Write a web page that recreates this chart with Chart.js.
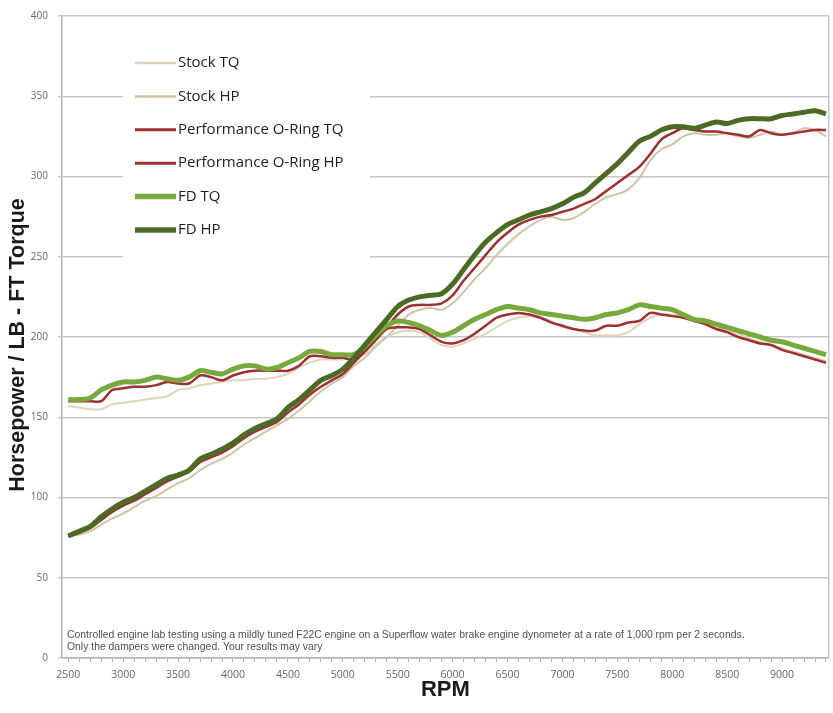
<!DOCTYPE html>
<html>
<head>
<meta charset="utf-8">
<script src="https://cdn.jsdelivr.net/npm/chart.js@4.4.1/dist/chart.umd.min.js"></script>
<style>
	html, body { margin: 0; padding: 0; background: #fff; }
	#wrap { width: 833px; height: 713px; }
</style>
</head>
<body>
<div id="wrap"><canvas id="chart-dyno"></canvas></div>
<script>
// ----------------------------------------------
// Data (every 100 rpm)
// ----------------------------------------------
const RPM = [
	2500, 2600, 2700, 2800, 2900, 3000, 3100, 3200, 3300, 3400,
	3500, 3600, 3700, 3800, 3900, 4000, 4100, 4200, 4300, 4400,
	4500, 4600, 4700, 4800, 4900, 5000, 5100, 5200, 5300, 5400,
	5500, 5600, 5700, 5800, 5900, 6000, 6100, 6200, 6300, 6400,
	6500, 6600, 6700, 6800, 6900, 7000, 7100, 7200, 7300, 7400,
	7500, 7600, 7700, 7800, 7900, 8000, 8100, 8200, 8300, 8400,
	8500, 8600, 8700, 8800, 8900, 9000, 9100, 9200, 9300, 9400,
];

const STOCK_TQ = [
	157, 156, 155, 155, 158, 159, 160, 161, 162, 163,
	167, 168, 170, 171, 172, 173, 173, 174, 174, 175,
	177, 181, 184, 186, 186, 186, 187, 189, 195, 200,
	203, 204, 203, 199, 195, 194, 196, 199, 202, 206,
	210, 212, 213, 212, 210, 206, 205, 203, 201, 201,
	201, 203, 208, 212, 214, 214, 212, 210, 208, 206,
	204, 202, 199, 197, 195, 193, 191, 189, 187, 185,
];
const STOCK_HP = [
	76, 77, 79, 83, 87, 90, 94, 98, 101, 105,
	109, 112, 117, 121, 124, 128, 133, 137, 141, 145,
	149, 154, 160, 166, 171, 175, 182, 187, 194, 200,
	207, 214, 217, 218, 217, 221, 228, 236, 243, 251,
	258, 264, 269, 273, 275, 273, 274, 278, 283, 287,
	289, 292, 299, 310, 317, 320, 325, 327, 326, 326,
	327, 325, 324, 326, 328, 326, 327, 330, 329, 325,
];
const PERF_TQ = [
	160, 160, 160, 160, 167, 168, 169, 169, 170, 172,
	171, 171, 176, 175, 173, 176, 178, 179, 179, 179,
	179, 182, 188, 188, 187, 187, 186, 191, 198, 205,
	206, 206, 205, 201, 197, 196, 198, 202, 207, 212,
	214, 215, 214, 212, 209, 207, 205, 204, 204, 207,
	207, 209, 210, 215, 214, 213, 212, 210, 208, 205,
	203, 200, 198, 196, 195, 192, 190, 188, 186, 184,
];
const PERF_HP = [
	76, 78, 81, 86, 91, 95, 98, 102, 106, 110,
	113, 116, 122, 125, 128, 132, 137, 141, 144, 147,
	153, 158, 164, 169, 173, 177, 184, 191, 199, 206,
	214, 219, 220, 220, 221, 226, 235, 243, 251, 259,
	265, 270, 273, 275, 276, 278, 280, 283, 286, 291,
	296, 301, 306, 314, 323, 327, 330, 329, 328, 328,
	327, 326, 325, 329, 327, 326, 327, 328, 329, 329,
];
const FD_TQ = [
	161, 161, 162, 167, 170, 172, 172, 173, 175, 174,
	173, 175, 179, 178, 177, 180, 182, 182, 180, 181,
	184, 187, 191, 191, 189, 189, 189, 194, 201, 207,
	210, 209, 207, 204, 201, 203, 207, 211, 214, 217,
	219, 218, 217, 215, 214, 213, 212, 211, 212, 214,
	215, 217, 220, 219, 218, 217, 214, 211, 210, 208,
	206, 204, 202, 200, 198, 197, 195, 193, 191, 189,
];
const FD_HP = [
	76, 79, 82, 88, 93, 97, 100, 104, 108, 112,
	114, 117, 124, 127, 130, 134, 139, 143, 146, 149,
	156, 161, 167, 173, 176, 180, 187, 195, 203, 211,
	219, 223, 225, 226, 227, 233, 242, 251, 259, 265,
	270, 273, 276, 278, 280, 283, 287, 290, 296, 302,
	308, 315, 322, 325, 329, 331, 331, 330, 332, 334,
	333, 335, 336, 336, 336, 338, 339, 340, 341, 339,
];

const Y_TICKS = [0, 50, 100, 150, 200, 250, 300, 350, 400];
const X_LABELS = [2500, 3000, 3500, 4000, 4500, 5000, 5500, 6000, 6500, 7000, 7500, 8000, 8500, 9000];

const Y_TITLE = "Horsepower / LB - FT Torque";
const NOTE_LINES = [
	"Controlled engine lab testing using a mildly tuned F22C engine on a Superflow water brake engine dynometer at a rate of 1,000 rpm per 2 seconds.",
	"Only the dampers were changed. Your results may vary",
];

const COLORS = {
	stockTq: "#ddd5bb",
	stockHp: "#cdc5a3",
	perf: "#9e2f32",
	fdTq: "#78a93c",
	fdHp: "#4b6b25",
	grid: "#c6c6c6",
	tick: "#666666",
};

const FONT = "'Open Sans', 'Liberation Sans', sans-serif";
const TITLE_FONT = "'Liberation Sans', Arial, sans-serif";

const toPoints = (values) => values.map((v, i) => ({ x: RPM[i], y: v }));

const SERIES = [
	{ label: "Stock TQ", data: STOCK_TQ, color: COLORS.stockTq, width: 2, order: 5 },
	{ label: "Stock HP", data: STOCK_HP, color: COLORS.stockHp, width: 2, order: 4 },
	{ label: "Performance O-Ring TQ", data: PERF_TQ, color: COLORS.perf, width: 2.5, order: 3 },
	{ label: "Performance O-Ring HP", data: PERF_HP, color: COLORS.perf, width: 2.5, order: 2 },
	{ label: "FD TQ", data: FD_TQ, color: COLORS.fdTq, width: 5, order: 1 },
	{ label: "FD HP", data: FD_HP, color: COLORS.fdHp, width: 5, order: 0 },
];

// ----------------------------------------------
// Legend box inside the plot + footnote + frame + y title
// ----------------------------------------------
const sheetDecor = {
	id: "sheetDecor",
	beforeDatasetsDraw(chart) {
		const { ctx, chartArea } = chart;
		ctx.save();

		// right frame
		ctx.strokeStyle = COLORS.grid;
		ctx.lineWidth = 1.5;
		ctx.beginPath();
		ctx.moveTo(chartArea.right, chartArea.top);
		ctx.lineTo(chartArea.right, chartArea.bottom);
		ctx.stroke();

		// legend box hides the grid behind it
		ctx.fillStyle = "#fff";
		ctx.fillRect(123, 38, 247, 224);

		ctx.font = "15px " + FONT;
		ctx.textBaseline = "middle";
		ctx.fillStyle = "#1e1e1e";
		SERIES.forEach((s, i) => {
			const y = 63 + i * 33.4;
			ctx.strokeStyle = s.color;
			ctx.lineWidth = s.width + 0.5;
			ctx.lineCap = "butt";
			ctx.beginPath();
			ctx.moveTo(135, y);
			ctx.lineTo(176, y);
			ctx.stroke();
			ctx.fillText(s.label, 178, y);
		});

		// footnote
		ctx.font = "10.4px " + TITLE_FONT;
		ctx.fillStyle = "#505050";
		NOTE_LINES.forEach((line, i) => {
			ctx.fillText(line, 67, 635 + i * 12.5);
		});

		// y axis title
		ctx.translate(18, 345);
		ctx.rotate(-Math.PI / 2);
		ctx.textAlign = "center";
		ctx.font = "bold 21.5px " + TITLE_FONT;
		ctx.fillStyle = "#1a1a1a";
		ctx.fillText(Y_TITLE, 0, 0);

		ctx.restore();
	},
};

const CHART_CONFIG = {
	type: "line",
	data: {
		datasets: SERIES.map((s) => ({
			label: s.label,
			data: toPoints(s.data),
			borderColor: s.color,
			backgroundColor: s.color,
			borderWidth: s.width,
			pointRadius: 0,
			tension: 0.3,
			order: s.order,
		})),
	},
	options: {
		responsive: true,
		maintainAspectRatio: false,
		animation: false,
		layout: {
			padding: { top: 10, right: 3, left: 0, bottom: 0 },
		},
		plugins: {
			legend: { display: false },
			tooltip: { enabled: false },
		},
		scales: {
			x: {
				type: "linear",
				min: 2443,
				max: 9425,
				afterFit: (scale) => {
					scale.height = 55;
				},
				afterBuildTicks: (scale) => {
					const ticks = [];
					for (let v = 2500; v <= 9400; v += 100) ticks.push({ value: v });
					scale.ticks = ticks;
				},
				border: { display: true, color: "#b4b4b4", width: 1.5 },
				grid: {
					drawOnChartArea: false,
					drawTicks: true,
					tickLength: 4,
					color: "#b4b4b4",
				},
				ticks: {
					autoSkip: false,
					maxRotation: 0,
					padding: 7,
					color: COLORS.tick,
					font: { family: FONT, size: 10.5 },
					callback: (value) => (X_LABELS.includes(value) ? String(value) : ""),
				},
				title: {
					display: true,
					text: "RPM",
					color: "#1a1a1a",
					font: { family: TITLE_FONT, size: 22, weight: "bold" },
					padding: { top: 0, bottom: 10 },
				},
			},
			y: {
				min: 0,
				max: 400,
				afterFit: (scale) => {
					scale.width = 62;
				},
				afterBuildTicks: (scale) => {
					scale.ticks = Y_TICKS.map((v) => ({ value: v }));
				},
				border: { display: true, color: "#b4b4b4", width: 1.5 },
				grid: {
					color: COLORS.grid,
					lineWidth: 1.5,
					tickLength: 4,
				},
				ticks: {
					padding: 10,
					color: COLORS.tick,
					font: { family: FONT, size: 10 },
				},
			},
		},
	},
	plugins: [sheetDecor],
};

const CHART_WRAPPER = document.getElementById("chart-dyno");
if (CHART_WRAPPER) {
	new Chart(CHART_WRAPPER, CHART_CONFIG);
}
</script>
</body>
</html>
